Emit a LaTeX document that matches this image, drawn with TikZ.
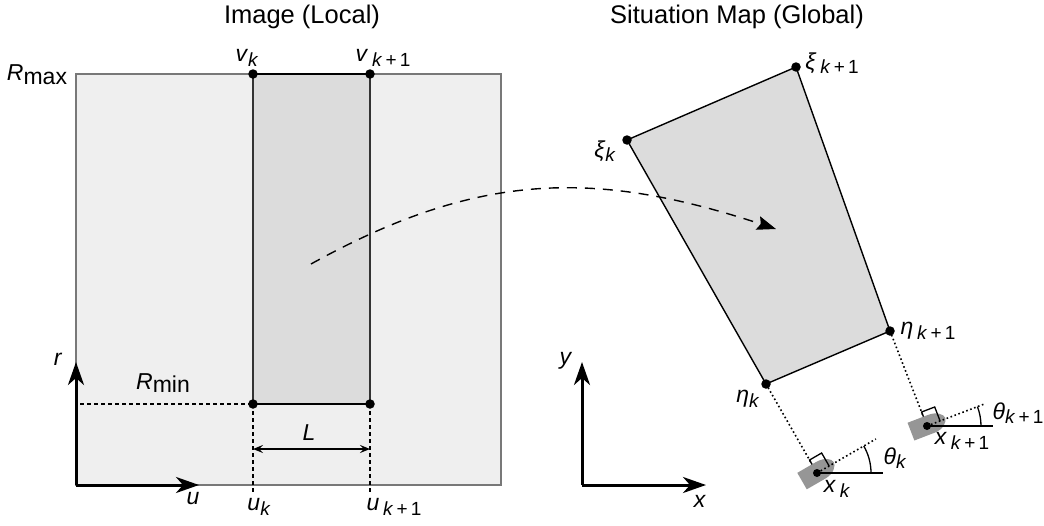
\documentclass[tikz,border=0pt]{standalone}
\usepackage{fontspec}
\setmainfont{Liberation Sans}
\usetikzlibrary{arrows.meta}
\definecolor{lightfill}{RGB}{239,239,239}
\definecolor{midfill}{RGB}{220,220,220}
\definecolor{vehgray}{RGB}{150,150,150}
\definecolor{rimgray}{RGB}{120,120,120}
\newcommand{\subs}[1]{\raisebox{-0.35ex}{\fontsize{19}{19}\selectfont #1}}
\newcommand{\kpo}{\textit{k}\,+\,1}
\begin{document}
\begin{tikzpicture}[x=1pt,y=-1pt,
  lab/.style={font=\fontsize{23}{26}\selectfont, inner sep=0pt},
  ttl/.style={font=\fontsize{25.5}{29}\selectfont, inner sep=0pt},
  dotnode/.style={circle, fill=black, inner sep=0pt, minimum size=9.5pt},
  axisarrow/.style={line width=3pt, -{Stealth[length=23pt,width=16pt,inset=7pt]}},
  dashline/.style={line width=1.2pt, dash pattern=on 4pt off 3pt},
  dotline/.style={line width=1.6pt, dash pattern=on 1.6pt off 2.6pt},
  edge/.style={line width=1.4pt}]
\useasboundingbox (0,0) rectangle (1044,525);

% ---------------- left: image ----------------
\node[ttl] (t1) at (302,17) {Image (Local)};
\draw[rimgray, line width=1.1pt, fill=lightfill] (76,74) rectangle (501,485);
\coordinate (vk) at (253,74);
\coordinate (vk1) at (370,74);
\coordinate (uk) at (253,404);
\coordinate (uk1) at (370,404);
\fill[midfill] (vk) rectangle (uk1);
\draw[edge, black!80] (uk) -- (vk);
\draw[edge, black!80] (uk1) -- (vk1);
\draw[edge] (vk) -- (vk1);
\draw[edge] (uk) -- (uk1);

\coordinate (rminl) at (80,404);
\draw[dashline] (rminl) -- (uk);
\coordinate (ukb) at (253,492);
\coordinate (uk1b) at (370,492);
\draw[dashline] (uk) -- (ukb);
\draw[dashline] (uk1) -- (uk1b);
\coordinate (La) at (253,449);
\coordinate (Lb) at (370,449);
\draw[line width=1.2pt, {Stealth[length=10pt,width=8pt,inset=4pt]}-{Stealth[length=10pt,width=8pt,inset=4pt]}] (La) -- (Lb);

\coordinate (o1) at (76,485);
\coordinate (uend) at (199,485);
\coordinate (rend) at (76,362);
\draw[axisarrow] (o1) -- (uend);
\draw[axisarrow] (o1) -- (rend);

\node[dotnode] (dvk) at (vk) {};
\node[dotnode] (dvk1) at (vk1) {};
\node[dotnode] (duk) at (uk) {};
\node[dotnode] (duk1) at (uk1) {};

\node[lab] (lrmax) at (37,75) {\textit{R}\raisebox{-0.3ex}{max}};
\node[lab] (lvk) at (247,58) {\textit{v}\subs{\textit{k}}};
\node[lab] (lvk1) at (383,58) {\textit{v}\,\subs{\kpo}};
\node[lab] (lrmin) at (163,383) {\textit{R}\raisebox{-0.3ex}{min}};
\node[lab] (lL) at (309,433) {\textit{L}};
\node[lab] (lu) at (193,499) {\textit{u}};
\node[lab] (lr) at (58,359) {\textit{r}};
\node[lab] (luk) at (259,507) {\textit{u}\subs{\textit{k}}};
\node[lab] (luk1) at (394,507) {\textit{u}\,\subs{\kpo}};

% ---------------- right: situation map ----------------
\node[ttl] (t2) at (737,17) {Situation Map (Global)};
\coordinate (xik) at (627,140);
\coordinate (xik1) at (796,67);
\coordinate (etak1) at (890,331);
\coordinate (etak) at (766,384);
\draw[edge, fill=midfill] (xik) -- (xik1) -- (etak1) -- (etak) -- cycle;

\coordinate (xk) at (817,473);
\coordinate (xk1) at (927,426);
\draw[dotline] (etak) -- (xk);
\draw[dotline] (etak1) -- (xk1);

% vehicle k
\begin{scope}[shift={(xk)}, x=1pt, y=1pt]
  \begin{scope}[rotate=30]
    \fill[vehgray] (-17,-9) -- (5,-9) .. controls (14,-9) and (20,-3) .. (20,1) .. controls (20,5) and (14,10) .. (5,10) -- (-17,10) -- cycle;
    \coordinate (hk) at (68,0);
    \draw[line width=1.3pt] (0,10) -- (0,15) -- (14,15) -- (14,0);
  \end{scope}
  \coordinate (refk) at (66,0);
  \draw[line width=1.3pt] (54,0) arc[start angle=0, end angle=30, radius=54];
\end{scope}
\draw[dotline] (xk) -- (hk);
\draw[line width=1.5pt] (xk) -- (refk);
\fill (xk) circle (4pt);

% vehicle k+1
\begin{scope}[shift={(xk1)}, x=1pt, y=1pt]
  \begin{scope}[rotate=21]
    \fill[vehgray] (-17,-9) -- (5,-9) .. controls (14,-9) and (20,-3) .. (20,1) .. controls (20,5) and (14,10) .. (5,10) -- (-17,10) -- cycle;
    \coordinate (hk1) at (63,0);
    \draw[line width=1.3pt] (0,10) -- (0,15) -- (14,15) -- (14,0);
  \end{scope}
  \coordinate (refk1) at (66,0);
  \draw[line width=1.3pt] (54,0) arc[start angle=0, end angle=21, radius=54];
\end{scope}
\draw[dotline] (xk1) -- (hk1);
\draw[line width=1.5pt] (xk1) -- (refk1);
\fill (xk1) circle (4pt);

\node[dotnode] (dxik) at (xik) {};
\node[dotnode] (dxik1) at (xik1) {};
\node[dotnode] (detak1) at (etak1) {};
\node[dotnode] (detak) at (etak) {};

\node[lab] (lxik) at (605,151) {\textit{ξ}\subs{\textit{k}}};
\node[lab] (lxik1) at (832,63) {\textit{ξ}\,\subs{\kpo}};
\node[lab] (letak1) at (928,331) {\textit{η}\,\subs{\kpo}};
\node[lab] (letak) at (748,399) {\textit{η}\subs{\textit{k}}};
\node[lab] (lthk) at (895,458) {\textit{θ}\subs{\textit{k}}};
\node[lab] (lthk1) at (1018,413) {\textit{θ}\subs{\kpo}};
\node[lab] (lxk) at (837,489) {\textit{x}\,\subs{\textit{k}}};
\node[lab] (lxk1) at (962,441) {\textit{x}\,\subs{\kpo}};

% axes
\coordinate (o2) at (582,485);
\coordinate (xend) at (706,485);
\coordinate (yend) at (582,362);
\draw[axisarrow] (o2) -- (xend);
\draw[axisarrow] (o2) -- (yend);
\node[lab] (lx) at (700,501) {\textit{x}};
\node[lab] (ly) at (566,361) {\textit{y}};

% transformation arrow
\coordinate (cs) at (311,264);
\coordinate (ce) at (776,229);
\draw[line width=1.4pt, dash pattern=on 10pt off 8pt, -{Stealth[length=19pt,width=14pt,inset=3pt]}]
  (cs) .. controls (477,172) and (594,169) .. (ce);
\end{tikzpicture}
\end{document}
